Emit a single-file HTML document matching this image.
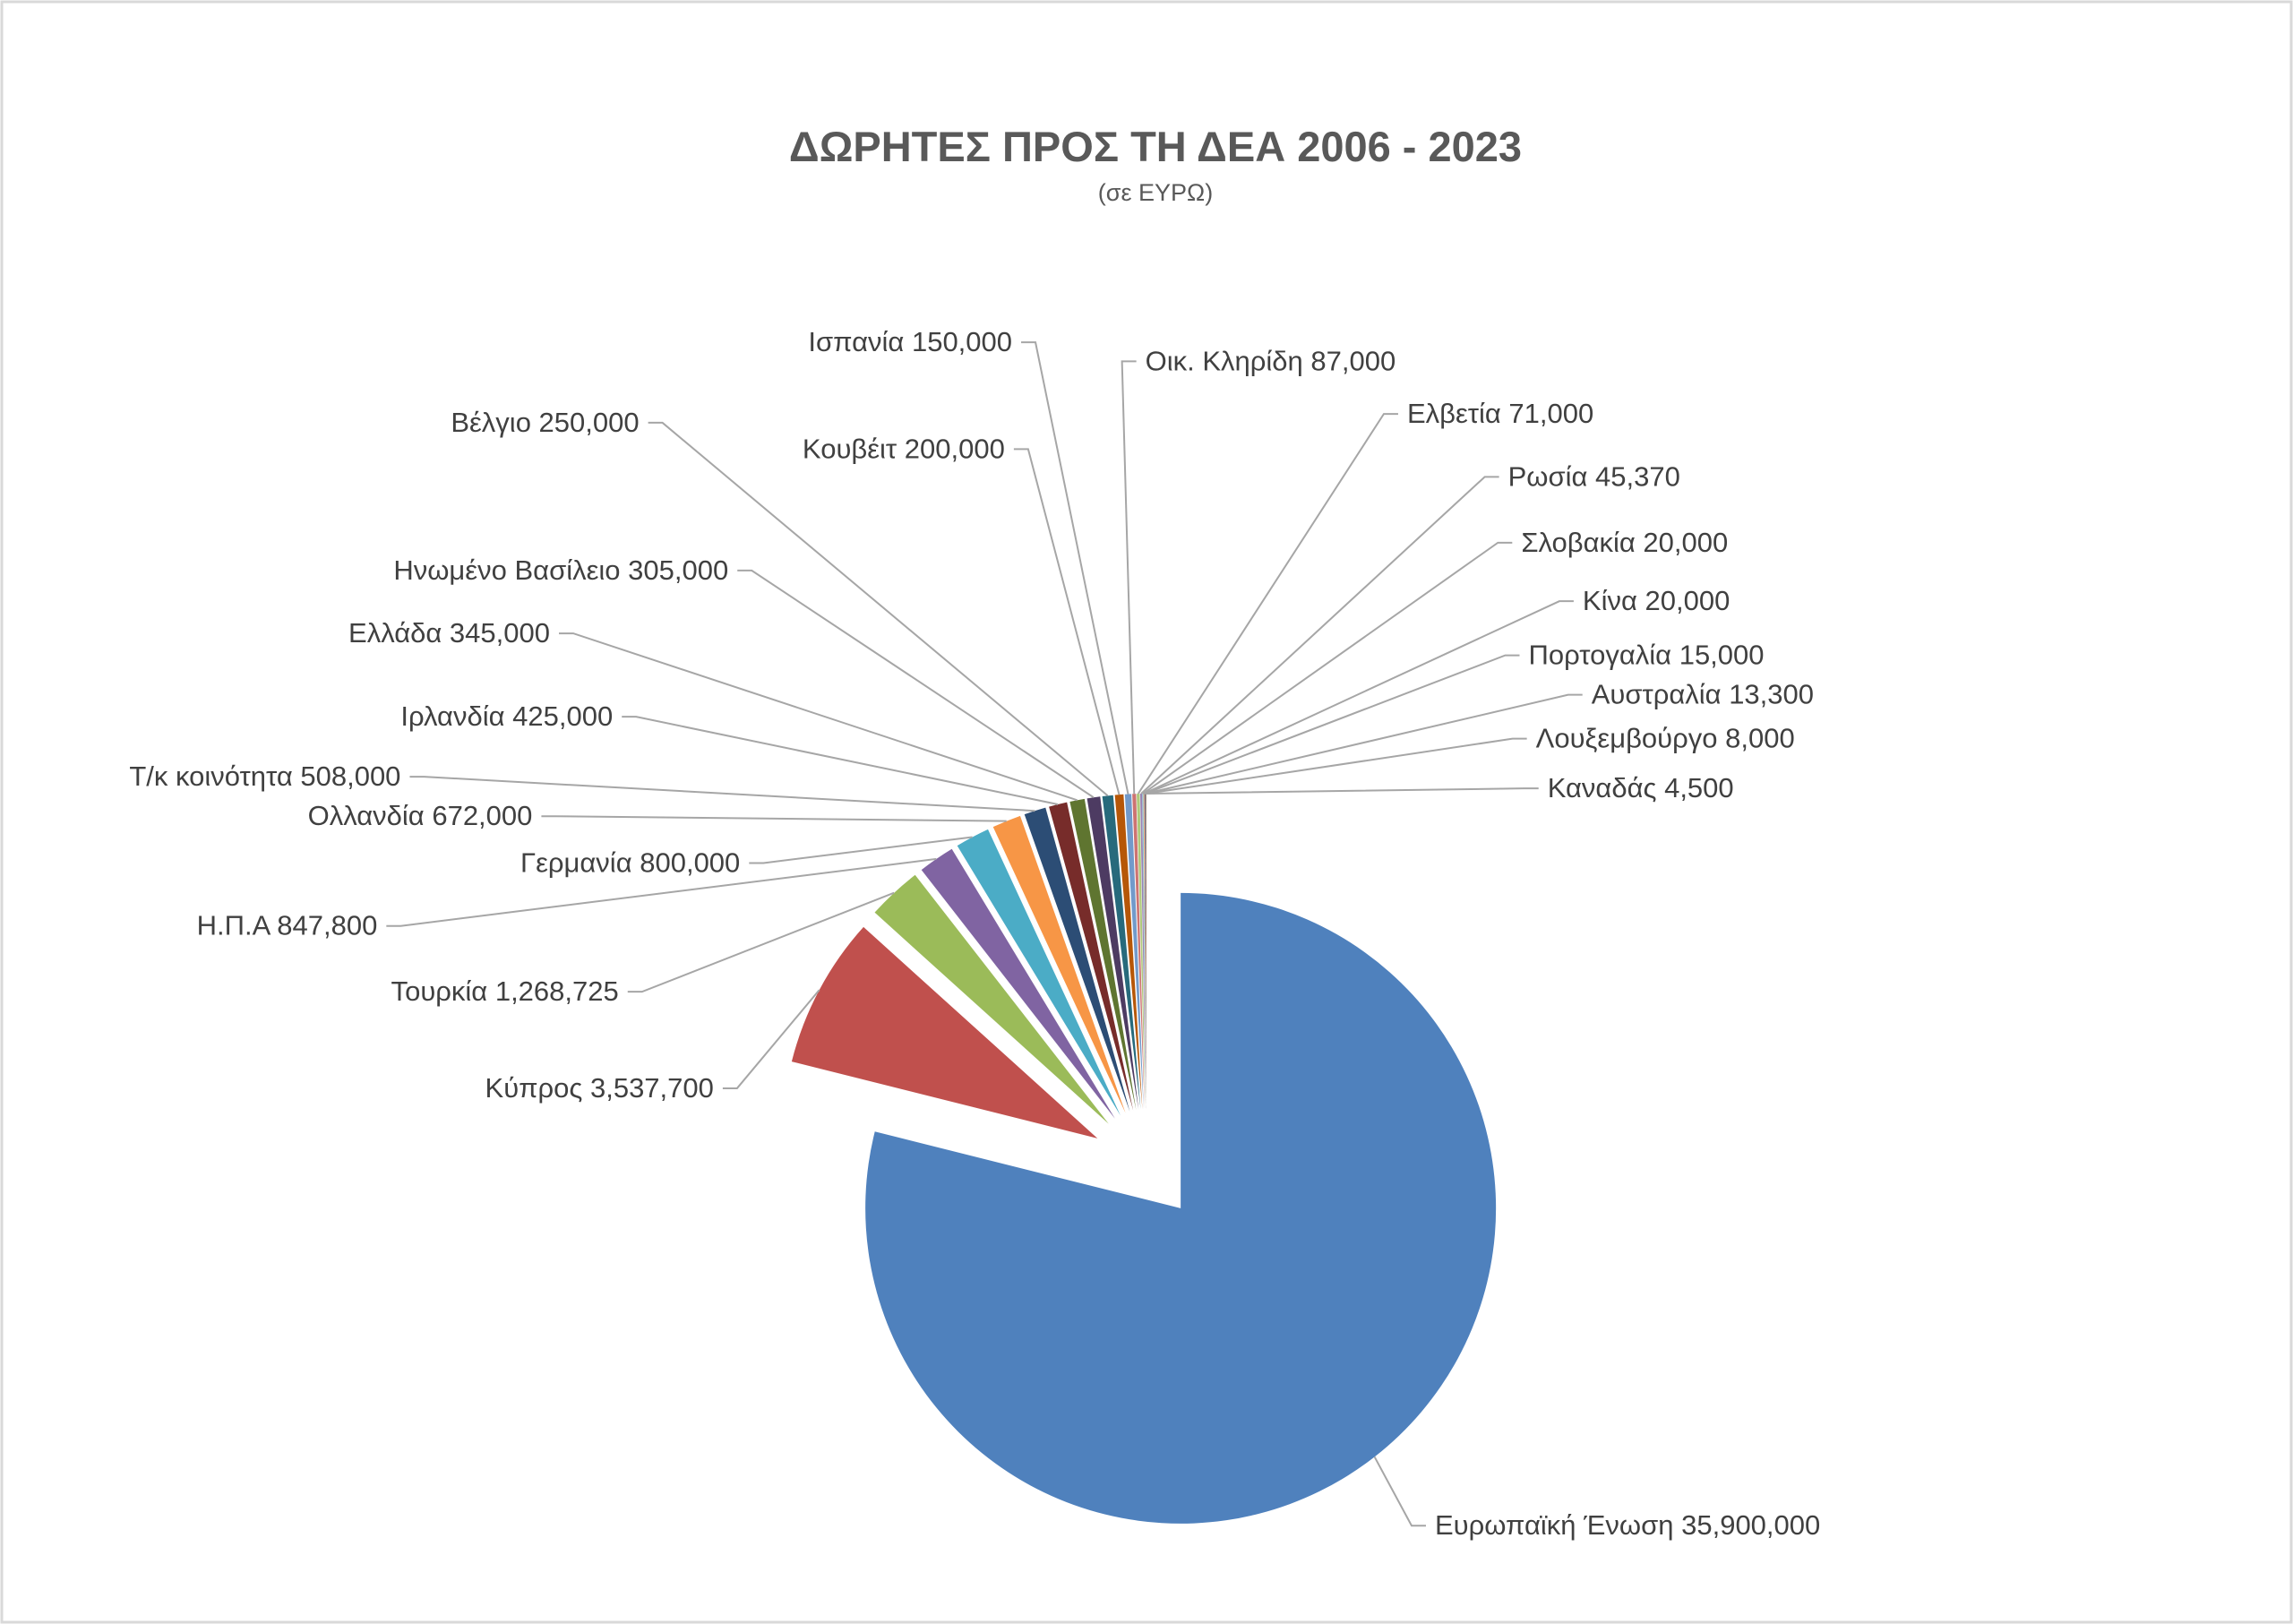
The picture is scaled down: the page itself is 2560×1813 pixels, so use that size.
<!DOCTYPE html>
<html><head><meta charset="utf-8"><style>
html,body{margin:0;padding:0;background:#fff;}
svg{display:block;}
text{font-family:"Liberation Sans","DejaVu Sans",sans-serif;}
</style></head><body>
<svg id="chart" width="2560" height="1813" viewBox="0 0 2560 1813" xmlns="http://www.w3.org/2000/svg">
<rect x="2" y="2" width="2556" height="1809" fill="#fff" stroke="#D9D9D9" stroke-width="3"/>
<text x="1290" y="180" text-anchor="middle" font-size="47" font-weight="bold" fill="#595959">ΔΩΡΗΤΕΣ ΠΡΟΣ ΤΗ ΔΕΑ 2006 - 2023</text>
<text x="1290" y="224" text-anchor="middle" font-size="27" fill="#595959">(σε ΕΥΡΩ)</text>
<g id="slices"></g>
<g id="leaders"></g>
<g id="labels"></g>
</svg>
<script>
const categories = ["Ευρωπαϊκή Ένωση","Κύπρος","Τουρκία","Η.Π.Α","Γερμανία","Ολλανδία","Τ/κ κοινότητα","Ιρλανδία","Ελλάδα","Ηνωμένο Βασίλειο","Βέλγιο","Κουβέιτ","Ισπανία","Οικ. Κληρίδη","Ελβετία","Ρωσία","Σλοβακία","Κίνα","Πορτογαλία","Αυστραλία","Λουξεμβούργο","Καναδάς"];
const values = [35900000,3537700,1268725,847800,800000,672000,508000,425000,345000,305000,250000,200000,150000,87000,71000,45370,20000,20000,15000,13300,8000,4500];
const valueLabels = ["35,900,000","3,537,700","1,268,725","847,800","800,000","672,000","508,000","425,000","345,000","305,000","250,000","200,000","150,000","87,000","71,000","45,370","20,000","20,000","15,000","13,300","8,000","4,500"];
const colors = ["#4F81BD","#C0504D","#9BBB59","#8064A2","#4BACC6","#F79646","#2C4D75","#772C2A","#5F7530","#4D3B62","#276A7C","#B65708","#729ACA","#CD7371","#AFC97A","#9983B5","#6FBDD1","#F9AB6B","#3A5F8F","#9B3B38","#7D9A3F","#644E82"];
// label layout (display coords; side: 1 = text right of anchor, -1 = left)
const labelLayout = [[981,1043,1],[488,744,-1],[423,678,-1],[258,633,-1],[506,590,-1],[364,558,-1],[274,531,-1],[419,490,-1],[376,433,-1],[498,390,-1],[437,289,-1],[687,307,-1],[692,234,-1],[783,247,1],[962,283,1],[1031,326,1],[1040,371,1],[1082,411,1],[1045,448,1],[1088,475,1],[1050,505,1],[1058,539,1]];
const S = 1.633, CX = 1280, CY = 1300, R = 352, D = 62;
const NS = "http://www.w3.org/2000/svg";
const total = values.reduce((a,b)=>a+b,0);
const pt = (cx,cy,r,a)=>[cx+r*Math.sin(a), cy-r*Math.cos(a)];
let start = 0;
const gS = document.getElementById('slices'), gL = document.getElementById('leaders'), gT = document.getElementById('labels');
values.forEach((v,i)=>{
  const sweep = v/total*2*Math.PI, end = start+sweep, mid = start+sweep/2;
  const [ox,oy] = pt(CX,CY,D,mid);
  const p1 = pt(ox,oy,R,start), p2 = pt(ox,oy,R,end);
  const path = document.createElementNS(NS,'path');
  path.setAttribute('d',`M${ox},${oy}L${p1[0]},${p1[1]}A${R},${R} 0 ${sweep>Math.PI?1:0} 1 ${p2[0]},${p2[1]}Z`);
  path.setAttribute('fill',colors[i]);
  
  
  gS.appendChild(path);
  const [lx,ly,side] = labelLayout[i];
  const tx = lx*S, ty = ly*S;
  const edge = pt(ox,oy,R,mid);
  const ax = tx - side*10, bx = tx - side*26;
  const line = document.createElementNS(NS,'polyline');
  line.setAttribute('points',`${ax},${ty} ${bx},${ty} ${edge[0]},${edge[1]}`);
  line.setAttribute('fill','none');
  line.setAttribute('stroke','#A6A6A6');
  line.setAttribute('stroke-width','2');
  
  
  gL.appendChild(line);
  const t = document.createElementNS(NS,'text');
  t.setAttribute('x',tx);
  t.setAttribute('y',ty+10);
  t.setAttribute('font-size','31');
  t.setAttribute('fill','#404040');
  t.setAttribute('text-anchor', side>0?'start':'end');
  t.textContent = categories[i]+' '+valueLabels[i];
  
  
  gT.appendChild(t);
  start = end;
});
</script>
</body></html>
